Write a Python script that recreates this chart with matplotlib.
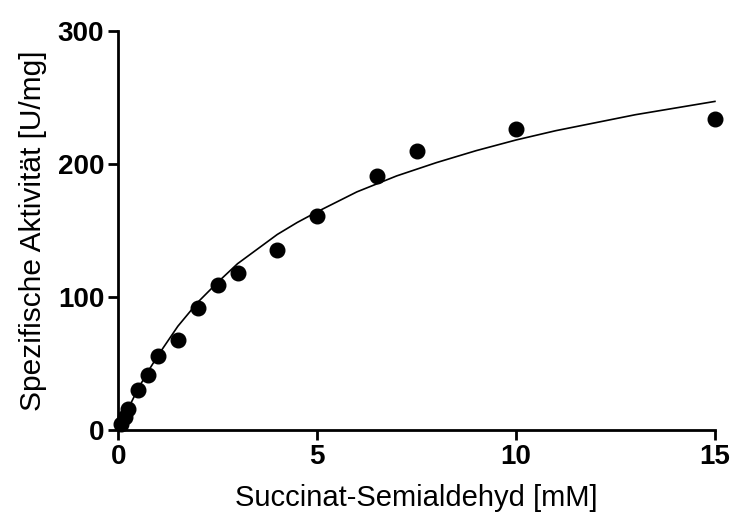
import matplotlib
matplotlib.use('Agg')
import matplotlib.pyplot as plt

plt.rcParams['font.family'] = ['Liberation Sans', 'DejaVu Sans']

# measured points
conc = [0.075, 0.175, 0.25, 0.5, 0.75, 1.0, 1.5, 2.0, 2.5, 3.0, 4.0, 5.0, 6.5, 7.5, 10.0, 15.0]
activity = [4.5, 10, 16, 30, 41, 56, 68, 92, 109, 118, 135, 161, 191, 210, 226, 234]

# fitted curve
fit_x = [0, 0.25, 0.5, 0.75, 1, 1.5, 2, 2.5, 3, 3.5, 4, 4.5, 5, 6, 7, 8, 9, 10, 11, 12, 13, 14, 15]
fit_y = [0, 16, 31, 44, 56, 78, 96, 111, 125, 136, 147, 156, 164, 179, 191, 201, 210, 218, 225, 231, 237, 242, 247]

xticks = [0, 5, 10, 15]
yticks = [0, 100, 200, 300]

fig = plt.figure(figsize=(7.34, 5.15), dpi=100)
ax = fig.add_axes([0.161, 0.165, 0.813, 0.775])

ax.plot(fit_x, fit_y, color='black', lw=1.2, clip_on=False)
ax.plot(conc, activity, 'o', color='black', ms=10.5, clip_on=False, zorder=3)

ax.set_xlim(0, 15)
ax.set_ylim(0, 300)
ax.set_xticks(xticks)
ax.set_yticks(yticks)

for s in ['top', 'right']:
    ax.spines[s].set_visible(False)
for s in ['left', 'bottom']:
    ax.spines[s].set_linewidth(2)

ax.tick_params(direction='out', length=7, width=2, labelsize=20, pad=3)
for lab in ax.get_xticklabels() + ax.get_yticklabels():
    lab.set_fontweight('bold')

ax.set_xlabel('Succinat-Semialdehyd [mM]', fontsize=21, labelpad=10)
ax.set_ylabel('Spezifische Aktivität [U/mg]', fontsize=21.5, labelpad=8)

fig.savefig('out.png', dpi=100)
